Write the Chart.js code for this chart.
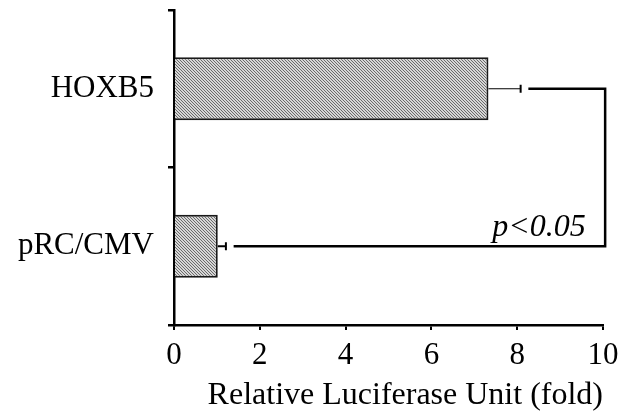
<!DOCTYPE html>
<html>
<head>
<meta charset="utf-8">
<script src="https://cdn.jsdelivr.net/npm/chart.js@4"></script>
<style>
  html, body { margin: 0; padding: 0; background: #fff; }
  #wrap { width: 629px; height: 411px; }
</style>
</head>
<body>
<div id="wrap"><canvas id="chart" width="629" height="411"></canvas></div>
<script>
// datos
const categories = ['HOXB5', 'pRC/CMV'];
const foldValues = [7.33, 1.02];
const foldErrors = [0.75, 0.19];
const significance = 'p<0.05';
const axisTitle = 'Relative Luciferase Unit (fold)';

const serif = '"Liberation Serif", "Times New Roman", serif';

// patron rayado para las barras
function hatchPattern() {
    const c = document.createElement('canvas');
    c.width = 3; c.height = 3;
    const g = c.getContext('2d');
    g.fillStyle = '#d6d6d6';
    g.fillRect(0, 0, 3, 3);
    g.strokeStyle = '#6a6a6a';
    g.lineWidth = 1;
    g.beginPath();
    g.moveTo(-1, -1); g.lineTo(4, 4);
    g.moveTo(-1, 2); g.lineTo(1, 4);
    g.moveTo(2, -1); g.lineTo(4, 1);
    g.stroke();
    return g.createPattern(c, 'repeat');
}

// barras de error (solo lado positivo) y corchete de significancia
const annotations = {
    id: 'annotations',
    afterDatasetsDraw(chart) {
        const { ctx, scales: { x, y } } = chart;
        ctx.save();
        ctx.strokeStyle = '#000';
        ctx.lineCap = 'butt';
        foldValues.forEach((v, i) => {
            const yc = y.getPixelForValue(i);
            const x0 = x.getPixelForValue(v);
            const x1 = x.getPixelForValue(v + foldErrors[i]);
            ctx.lineWidth = i === 0 ? 1.2 : 2;
            ctx.beginPath();
            ctx.moveTo(x0, yc); ctx.lineTo(x1, yc);
            ctx.stroke();
            ctx.lineWidth = 2;
            ctx.beginPath();
            ctx.moveTo(x1, yc - 4); ctx.lineTo(x1, yc + 4);
            ctx.stroke();
        });
        const gap = 0.18;
        const yTop = y.getPixelForValue(0);
        const yBot = y.getPixelForValue(1);
        const xStart = x.getPixelForValue(foldValues[0] + foldErrors[0] + gap);
        const xEnd = x.getPixelForValue(foldValues[1] + foldErrors[1] + gap);
        const xRight = x.getPixelForValue(10.05);
        ctx.lineWidth = 2.5;
        ctx.lineJoin = 'miter';
        ctx.beginPath();
        ctx.moveTo(xStart, yTop);
        ctx.lineTo(xRight, yTop);
        ctx.lineTo(xRight, yBot);
        ctx.lineTo(xEnd, yBot);
        ctx.stroke();
        ctx.fillStyle = '#000';
        ctx.font = 'italic 32px ' + serif;
        ctx.textAlign = 'right';
        ctx.textBaseline = 'alphabetic';
        ctx.fillText(significance, x.getPixelForValue(9.6), yBot - 10);
        ctx.restore();
    }
};

const ctx = document.getElementById('chart').getContext('2d');
new Chart(ctx, {
    type: 'bar',
    data: {
        labels: categories,
        datasets: [{
            data: foldValues,
            backgroundColor: hatchPattern(),
            borderColor: '#1a1a1a',
            borderWidth: 2,
            borderSkipped: 'start',
            barPercentage: 0.8,
            categoryPercentage: 0.5
        }]
    },
    options: {
        indexAxis: 'y',
        responsive: false,
        animation: false,
        layout: { padding: { top: 10, right: 26, left: 0, bottom: 0 } },
        plugins: { legend: { display: false }, tooltip: { enabled: false } },
        scales: {
            x: {
                min: 0,
                max: 10,
                ticks: {
                    stepSize: 2,
                    color: '#000',
                    font: { family: serif, size: 31 },
                    padding: 7
                },
                grid: { display: true, drawOnChartArea: false, drawTicks: true, tickLength: 5, color: '#000', lineWidth: 2 },
                border: { display: true, color: '#000', width: 2.5 },
                title: {
                    display: true,
                    text: axisTitle,
                    align: 'end',
                    color: '#000',
                    font: { family: serif, size: 32 },
                    padding: { top: 0, bottom: -4 }
                },
                afterFit(s) { s.height = 86; }
            },
            y: {
                ticks: {
                    color: '#000',
                    font: { family: serif, size: 31 },
                    padding: 14
                },
                grid: { display: true, offset: true, drawOnChartArea: false, drawTicks: true, tickLength: 6, color: '#000', lineWidth: 2.5 },
                border: { display: true, color: '#000', width: 2.5 },
                afterFit(s) { s.width = 174; s.paddingTop = 0; s.paddingBottom = 0; }
            }
        }
    },
    plugins: [annotations]
});
</script>
</body>
</html>
